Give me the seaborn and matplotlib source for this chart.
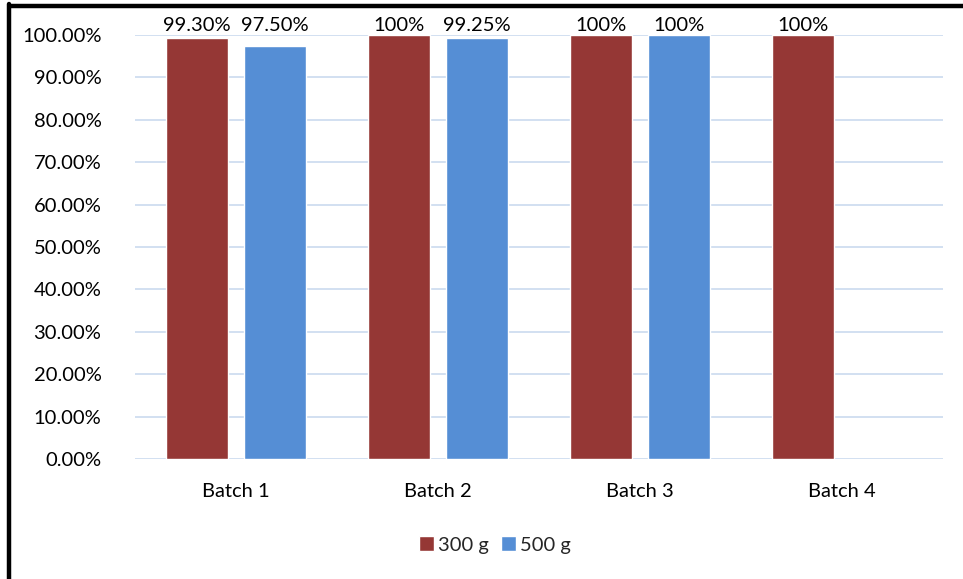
import matplotlib
matplotlib.use("Agg")
import matplotlib.pyplot as plt
from matplotlib.lines import Line2D
import numpy as np
import pandas as pd
import seaborn as sns

# Data
batches = ["Batch 1", "Batch 2", "Batch 3", "Batch 4"]
weights = ["300 g", "500 g"]
values_300g = [0.993, 1.00, 1.00, 1.00]
values_500g = [0.975, 0.9925, 1.00, np.nan]
labels_300g = ["99.30%", "100%", "100%", "100%"]
labels_500g = ["97.50%", "99.25%", "100%", ""]
colors = ["#953735", "#558ED5"]

df = pd.DataFrame({
    "batch": batches * 2,
    "weight": [weights[0]] * 4 + [weights[1]] * 4,
    "value": values_300g + values_500g,
})

sns.set_theme(style="white")
plt.rcParams["font.family"] = ["Lato", "DejaVu Sans"]
FS = 14.5

fig = plt.figure(figsize=(9.63, 5.79), dpi=100)
ax = fig.add_axes([0.140, 0.2073, 0.839, 0.7323])

sns.barplot(data=df, x="batch", y="value", hue="weight", order=batches,
            hue_order=weights, palette=colors, width=0.772, gap=0.205,
            saturation=1, ax=ax, legend=True, errorbar=None)

ax.set_ylim(0, 1.0)
ax.set_xlim(-0.5, len(batches) - 0.5)
ax.set_yticks(np.linspace(0, 1, 11))
ax.set_yticklabels([f"{v:.2%}" for v in np.linspace(0, 1, 11)], fontsize=FS)
ax.tick_params(axis="x", labelsize=FS, pad=17, length=0)
ax.tick_params(axis="y", pad=24, length=0)
for lbl in ax.get_yticklabels():
    lbl.set_color("#000000")
for lbl in ax.get_xticklabels():
    lbl.set_color("#000000")
ax.set_xlabel("")
ax.set_ylabel("")
ax.yaxis.grid(True, color="#CFDDF0", linewidth=1.3)
ax.set_axisbelow(True)
for s in ax.spines.values():
    s.set_visible(False)

# Data labels above each bar
slot = 0.772 / 2
for i in range(len(batches)):
    for j, labs in enumerate([labels_300g, labels_500g]):
        if labs[i]:
            x = i + (j - 0.5) * slot
            ax.annotate(labs[i], (x, 1.0), xytext=(0, 0.5), textcoords="offset points",
                        ha="center", va="bottom", fontsize=FS, color="#000000",
                        annotation_clip=False)

leg = ax.legend(loc="upper center", bbox_to_anchor=(0.446, -0.14), ncol=2,
                frameon=False, fontsize=FS, handlelength=0.75, handleheight=0.75,
                handletextpad=0.2, columnspacing=0.6)

# Outer frame lines along the top and left edges
fig.add_artist(Line2D([0.010, 1.0], [0.9905, 0.9905], transform=fig.transFigure,
                      color="black", linewidth=3.2))
fig.add_artist(Line2D([0.0095, 0.0095], [0.0, 0.9925], transform=fig.transFigure,
                      color="black", linewidth=3.2))

fig.savefig("out.png", dpi=100, facecolor="white")
